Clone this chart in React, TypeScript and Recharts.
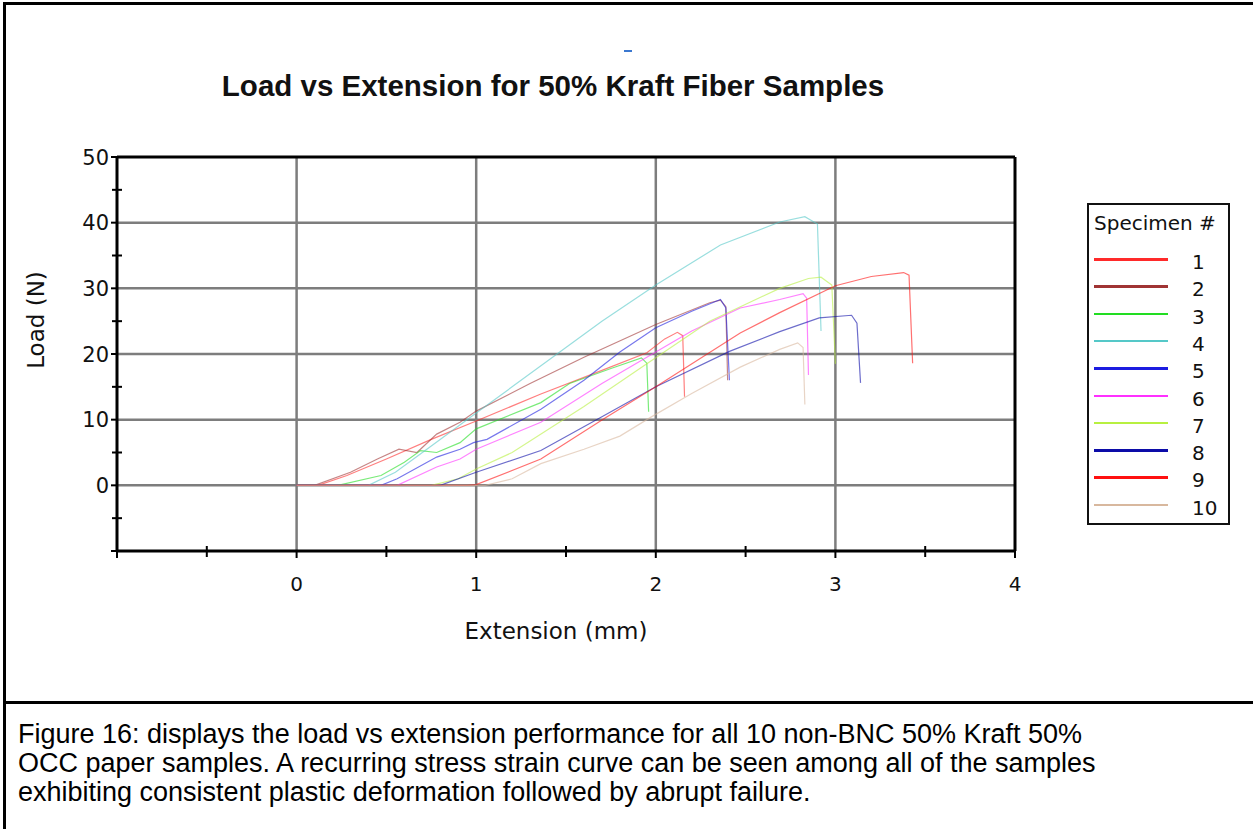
import { LineChart, Line, XAxis, YAxis, ReferenceLine } from "recharts";

// [extension (mm), load (N)]
const spec1 = [[0, 0], [0.12, 0], [0.28, 1.5], [0.5, 4], [0.75, 7], [1.0, 9.8], [1.36, 13.9], [1.7, 17.5], [1.95, 20.2], [2.05, 22.3], [2.12, 23.3], [2.15, 22.8], [2.16, 13.5]];
const spec2 = [[0, 0], [0.1, 0], [0.3, 2], [0.45, 4], [0.57, 5.5], [0.67, 5.0], [0.78, 7.8], [0.91, 9.6], [1.0, 11.3], [1.3, 15.5], [1.6, 19.5], [2.0, 24.5], [2.3, 27.8], [2.36, 28.2], [2.39, 27.2], [2.4, 16]];
const spec3 = [[0, 0], [0.23, 0], [0.47, 1.5], [0.6, 3.5], [0.69, 5.3], [0.78, 5.0], [0.91, 6.5], [1.0, 8.6], [1.36, 12.6], [1.52, 15.5], [1.75, 17.8], [1.92, 19.4], [1.95, 18.6], [1.96, 11.2]];
const spec4 = [[0, 0], [0.4, 0], [0.55, 2], [0.75, 6], [1.0, 11], [1.2, 15], [1.45, 20], [1.7, 25], [2.0, 30.5], [2.36, 36.6], [2.69, 40.1], [2.83, 40.9], [2.9, 39.8], [2.92, 23.5]];
const spec5 = [[0, 0], [0.47, 0], [0.56, 1], [0.78, 4.3], [0.91, 5.5], [0.985, 6.5], [1.06, 7], [1.36, 11.6], [1.6, 16], [1.8, 20.3], [2.0, 24], [2.2, 26.5], [2.36, 28.3], [2.39, 27], [2.41, 16]];
const spec6 = [[0, 0], [0.56, 0], [0.78, 2.8], [0.91, 4], [1.0, 5.5], [1.36, 9.6], [1.7, 15.5], [1.95, 19.5], [2.2, 23.5], [2.47, 27], [2.69, 28.3], [2.82, 29.2], [2.84, 28.5], [2.85, 16.8]];
const spec7 = [[0, 0], [0.75, 0], [0.9, 1], [1.0, 2.5], [1.2, 5], [1.4, 8.5], [1.6, 12], [1.95, 18.5], [2.3, 25], [2.69, 30], [2.85, 31.5], [2.92, 31.7], [2.98, 30.5], [3.0, 18.5]];
const spec8 = [[0, 0], [0.8, 0], [1.0, 2], [1.36, 5.3], [1.69, 10.3], [2.0, 15], [2.41, 20.4], [2.69, 23.4], [2.91, 25.5], [3.09, 25.9], [3.12, 24.7], [3.14, 15.6]];
const spec9 = [[0, 0], [0.95, 0], [1.0, 0.1], [1.36, 4], [1.72, 10.3], [2.0, 15], [2.47, 23.2], [2.69, 26.3], [3.0, 30.4], [3.2, 31.8], [3.38, 32.4], [3.41, 32], [3.43, 18.6]];
const spec10 = [[0, 0], [1.05, 0], [1.2, 1], [1.36, 3.3], [1.6, 5.5], [1.8, 7.5], [1.98, 10.5], [2.2, 14], [2.47, 18], [2.69, 20.7], [2.79, 21.7], [2.82, 21], [2.83, 12.3]];

const specimenNames = ["1", "2", "3", "4", "5", "6", "7", "8", "9", "10"];
const specimenColors = ["#ff2a2a", "#a03434", "#22dd22", "#55c8c8", "#1c1ce0", "#ff30ff", "#b8f040", "#0c0ca8", "#ff1010", "#d8b89e"];
const allSpecimens = [spec1, spec2, spec3, spec4, spec5, spec6, spec7, spec8, spec9, spec10];

const xTicks = [-1, -0.5, 0, 0.5, 1, 1.5, 2, 2.5, 3, 3.5, 4];
const yTicks = [-10, -5, 0, 5, 10, 15, 20, 25, 30, 35, 40, 45, 50];
const xGrid = [0, 1, 2, 3];
const yGrid = [0, 10, 20, 30, 40];

const captionLines = [
  "Figure 16: displays the load vs extension performance for all 10 non-BNC 50% Kraft 50%",
  "OCC paper samples. A recurring stress strain curve can be seen among all of the samples",
  "exhibiting consistent plastic deformation followed by abrupt failure.",
];

const series = allSpecimens.map((pts, i) => ({
  name: specimenNames[i],
  color: specimenColors[i],
  data: pts.map(([x, y]) => ({ x, y })),
}));

const axisFont = "'DejaVu Sans', Verdana, sans-serif";

const XTick = (props: any) => {
  const { x, y, payload } = props;
  const v = payload.value;
  const major = Number.isInteger(v);
  return (
    <g>
      <line x1={x} x2={x} y1={major ? y : y - 5} y2={major ? y + 7 : y + 6} stroke="#000" strokeWidth={2} />
      {major && v >= 0 && (
        <text x={x} y={y + 40} textAnchor="middle" fontFamily={axisFont} fontSize={20} fill="#111">
          {v}
        </text>
      )}
    </g>
  );
};

const YTick = (props: any) => {
  const { x, y, payload } = props;
  const v = payload.value;
  const major = v % 10 === 0;
  return (
    <g>
      <line x1={major ? x - 6 : x - 5} x2={major ? x : x + 5} y1={y} y2={y} stroke="#000" strokeWidth={2} />
      {major && v >= 0 && (
        <text x={x - 8} y={y + 7.5} textAnchor="end" fontFamily={axisFont} fontSize={21} fill="#111">
          {v}
        </text>
      )}
    </g>
  );
};

const App = () => {
  return (
    <div style={{ position: "absolute", left: 0, top: 0, width: 1253, height: 829, background: "#fff", overflow: "hidden" }}>
      <LineChart width={1253} height={829} margin={{ top: 157, right: 238, bottom: 218, left: 57 }}>
        <XAxis
          type="number"
          dataKey="x"
          domain={[-1, 4]}
          ticks={xTicks}
          interval={0}
          allowDataOverflow
          height={60}
          tickSize={0}
          tickMargin={0}
          tickLine={false}
          axisLine={{ stroke: "#000", strokeWidth: 3 }}
          tick={<XTick />}
        />
        <YAxis
          type="number"
          dataKey="y"
          domain={[-10, 50]}
          ticks={yTicks}
          interval={0}
          allowDataOverflow
          width={60}
          tickSize={0}
          tickMargin={0}
          tickLine={false}
          axisLine={{ stroke: "#000", strokeWidth: 3 }}
          tick={<YTick />}
        />
        {xGrid.map((v) => (
          <ReferenceLine key={"gx" + v} x={v} stroke="#7d7d7d" strokeWidth={2.5} />
        ))}
        {yGrid.map((v) => (
          <ReferenceLine key={"gy" + v} y={v} stroke="#7d7d7d" strokeWidth={2.5} />
        ))}
        <ReferenceLine y={50} stroke="#000" strokeWidth={3} />
        <ReferenceLine x={4} stroke="#000" strokeWidth={3} />
        {series.map((s) => (
          <Line
            key={s.name}
            data={s.data}
            dataKey="y"
            name={s.name}
            type="linear"
            stroke={s.color}
            strokeOpacity={0.6}
            strokeWidth={1.2}
            dot={false}
            activeDot={false}
            isAnimationActive={false}
          />
        ))}
      </LineChart>

      {/* legend */}
      <div
        style={{
          position: "absolute",
          left: 1087,
          top: 203,
          width: 139,
          height: 318,
          border: "2px solid #111",
          background: "#fff",
          fontFamily: axisFont,
          color: "#111",
        }}
      >
        <div style={{ position: "absolute", left: 5, top: 6, fontSize: 20, lineHeight: "24px", whiteSpace: "nowrap" }}>Specimen #</div>
        {series.map((s, i) => (
          <div key={s.name} style={{ position: "absolute", left: 0, top: 43 + i * 27.3, width: 139, height: 24 }}>
            <div style={{ position: "absolute", left: 5, top: 10, width: 74, height: 2.5, background: s.color }} />
            <div style={{ position: "absolute", left: 103, top: 2, fontSize: 20, lineHeight: "24px" }}>{s.name}</div>
          </div>
        ))}
      </div>

      <svg width={1253} height={829} style={{ position: "absolute", left: 0, top: 0, pointerEvents: "none" }}>
        <rect x={3} y={2} width={1250} height={3} fill="#000" />
        <rect x={3} y={2} width={3} height={827} fill="#000" />
        <rect x={3} y={701} width={1250} height={3} fill="#000" />
        <rect x={624} y={50} width={8} height={2} fill="#3b78d0" />
        <text x={553} y={96} textAnchor="middle" fontFamily="'Liberation Sans', Arial, sans-serif" fontWeight="bold" fontSize={29.5} fill="#111">
          Load vs Extension for 50% Kraft Fiber Samples
        </text>
        <text
          x={0}
          y={0}
          transform="translate(44, 320) rotate(-90)"
          textAnchor="middle"
          fontFamily={axisFont}
          fontSize={23}
          fill="#111"
        >
          Load (N)
        </text>
        <text x={556} y={639} textAnchor="middle" fontFamily={axisFont} fontSize={23} fill="#111">
          Extension (mm)
        </text>
        {captionLines.map((line, i) => (
          <text key={i} x={18} y={743 + i * 29} fontFamily="'Liberation Sans', Arial, sans-serif" fontSize={27} fill="#000">
            {line}
          </text>
        ))}
      </svg>
    </div>
  );
};

export default App;
